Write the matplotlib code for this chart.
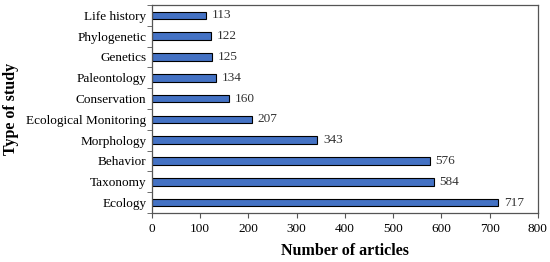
import matplotlib.pyplot as plt
import numpy as np

studies = ["Ecology", "Taxonomy", "Behavior", "Morphology", "Ecological Monitoring",
           "Conservation", "Paleontology", "Genetics", "Phylogenetic", "Life history"]
articles = [717, 584, 576, 343, 207, 160, 134, 125, 122, 113]

plt.rcParams['font.family'] = ['Liberation Serif', 'DejaVu Serif']

fig = plt.figure(figsize=(5.5, 2.62), dpi=100)
ax = fig.add_axes([0.276, 0.187, 0.702, 0.794])

y = np.arange(len(studies))
bars = ax.barh(y, articles, height=0.36, color='#4472C4', edgecolor='black', linewidth=0.8)
for yi, v in zip(y, articles):
    ax.text(v + 12, yi, str(v), va='center', ha='left', fontsize=9.5, color='#333333')

ax.set_xlim(0, 800)
ax.set_ylim(-0.5, len(studies) - 0.5)
ax.set_xticks(range(0, 801, 100))
ax.set_yticks(y)
ax.set_yticklabels(studies)
ax.set_yticks(np.arange(-0.5, len(studies), 1), minor=True)
ax.tick_params(axis='y', which='major', length=0, pad=4, labelsize=9.5)
ax.tick_params(axis='y', which='minor', length=3.5, direction='out', color='#555555')
ax.tick_params(axis='x', length=3.5, labelsize=9.5, color='#555555')

for s in ax.spines.values():
    s.set_color('#555555')
    s.set_linewidth(0.9)

ax.set_xlabel('Number of articles', fontsize=11.5, fontweight='bold', labelpad=6)
ax.set_ylabel('Type of study', fontsize=11.5, fontweight='bold', labelpad=5)

fig.savefig('out.png', dpi=100)
